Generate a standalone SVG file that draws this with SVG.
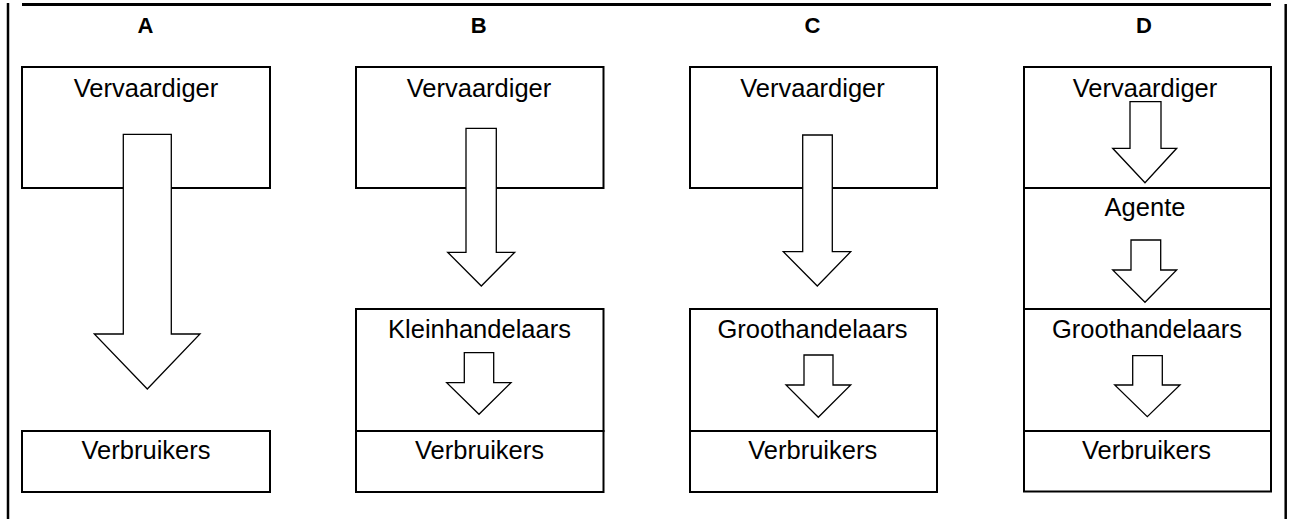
<svg xmlns="http://www.w3.org/2000/svg" width="1289" height="519" viewBox="0 0 1289 519">
<style>
.box{fill:#fff;stroke:#000;stroke-width:2}
.lbl{font-family:"Liberation Sans",Arial,sans-serif;font-size:25.5px;fill:#000;text-anchor:middle}
.ttl{font-family:"Liberation Sans",Arial,sans-serif;font-size:22px;font-weight:bold;fill:#000;text-anchor:middle}
.arr{fill:#fff;stroke:#000;stroke-width:1.3;stroke-linejoin:miter}
.frame{stroke:#000;fill:none}
</style>
<rect width="1289" height="519" fill="#fff"/>
<g id="frame">
<line class="frame" x1="22" y1="4.5" x2="1271" y2="4.5" stroke-width="3"/>
<line class="frame" x1="8" y1="3" x2="8" y2="519" stroke-width="2.5"/>
<line class="frame" x1="1285.7" y1="4" x2="1285.7" y2="519" stroke-width="2.5"/>
</g>
<g id="titles">
<text class="ttl" x="145.5" y="33">A</text>
<text class="ttl" x="478.7" y="33">B</text>
<text class="ttl" x="812.5" y="33">C</text>
<text class="ttl" x="1144" y="33">D</text>
</g>
<g id="A-vervaardiger"><rect class="box" x="22" y="67" width="248" height="121"/><text class="lbl" x="146" y="97">Vervaardiger</text></g>
<g id="A-verbruikers"><rect class="box" x="22" y="431" width="248" height="61"/><text class="lbl" x="146" y="459">Verbruikers</text></g>
<g id="B-vervaardiger"><rect class="box" x="356" y="67" width="247.5" height="121"/><text class="lbl" x="479" y="97">Vervaardiger</text></g>
<g id="B-kleinhandelaars"><rect class="box" x="356" y="309" width="247.5" height="122"/><text class="lbl" x="479.5" y="337.5">Kleinhandelaars</text></g>
<g id="B-verbruikers"><rect class="box" x="356" y="431" width="247.5" height="61"/><text class="lbl" x="479.5" y="459">Verbruikers</text></g>
<g id="C-vervaardiger"><rect class="box" x="690" y="67" width="247" height="121"/><text class="lbl" x="812.5" y="97">Vervaardiger</text></g>
<g id="C-groothandelaars"><rect class="box" x="690" y="309" width="247" height="122"/><text class="lbl" x="812.5" y="337.5">Groothandelaars</text></g>
<g id="C-verbruikers"><rect class="box" x="690" y="431" width="247" height="61"/><text class="lbl" x="812.7" y="459">Verbruikers</text></g>
<g id="D-vervaardiger"><rect class="box" x="1024" y="67" width="247" height="121"/><text class="lbl" x="1145" y="97">Vervaardiger</text></g>
<g id="D-agente"><rect class="box" x="1024" y="188" width="247" height="121"/><text class="lbl" x="1145" y="216">Agente</text></g>
<g id="D-groothandelaars"><rect class="box" x="1024" y="309" width="247" height="122"/><text class="lbl" x="1147" y="337.5">Groothandelaars</text></g>
<g id="D-verbruikers"><rect class="box" x="1024" y="431" width="247" height="60.5"/><text class="lbl" x="1146.5" y="459">Verbruikers</text></g>
<g id="connectors">
<polygon class="arr" points="123.3,134.3 171.3,134.3 171.3,334 200,334 147.3,389 94.3,334 123.3,334"/>
<polygon class="arr" points="466,128.3 496.3,128.3 496.3,252.3 514.7,252.3 481.3,286 447.7,252.3 466,252.3"/>
<polygon class="arr" points="464.3,352.7 493.7,352.7 493.7,382.7 511,382.7 479,414.3 446.7,382.7 464.3,382.7"/>
<polygon class="arr" points="802.7,135 832.3,135 832.3,251.7 850.7,251.7 817.3,286 783.3,251.7 802.7,251.7"/>
<polygon class="arr" points="804,355 833,355 833,385 850.7,385 818.3,417.3 786,385 804,385"/>
<polygon class="arr" points="1130,101.7 1161,101.7 1161,148.3 1176.7,148.3 1145,182.7 1112.7,148.3 1130,148.3"/>
<polygon class="arr" points="1131,240 1160.7,240 1160.7,270 1176.7,270 1145,302.3 1112.7,270 1131,270"/>
<polygon class="arr" points="1132.7,355.7 1162.3,355.7 1162.3,385 1180,385 1147.3,416.7 1114.7,385 1132.7,385"/>
</g>
</svg>
